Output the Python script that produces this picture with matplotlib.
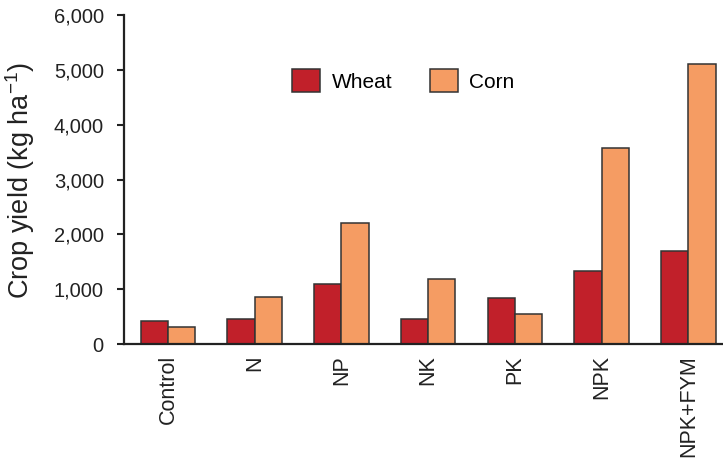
import matplotlib
matplotlib.use("Agg")
import matplotlib.pyplot as plt
import numpy as np

plt.rcParams['font.family'] = ['Liberation Sans', 'DejaVu Sans']
plt.rcParams['mathtext.fontset'] = 'custom'
plt.rcParams['mathtext.rm'] = 'Liberation Sans'
plt.rcParams['mathtext.it'] = 'Liberation Sans'

# data
treatments = ["Control", "N", "NP", "NK", "PK", "NPK", "NPK+FYM"]
wheat = [425, 456, 1095, 460, 845, 1337, 1702]
corn = [310, 850, 2207, 1190, 541, 3580, 5100]
yticks = [0, 1000, 2000, 3000, 4000, 5000, 6000]
ytick_labels = ["0", "1,000", "2,000", "3,000", "4,000", "5,000", "6,000"]

wheat_col = "#C1202A"
corn_col = "#F59C63"
edge = "#333333"

fig = plt.figure(figsize=(7.23, 4.59), dpi=100)
ax = fig.add_axes([0.1715, 0.2505, 0.8285, 0.7165])

x = np.arange(len(treatments))
w = 0.315
ax.bar(x - w/2, wheat, w, color=wheat_col, edgecolor=edge, linewidth=1.1, label="Wheat")
ax.bar(x + w/2, corn, w, color=corn_col, edgecolor=edge, linewidth=1.1, label="Corn")

ax.set_xlim(-0.507, 6.40)
ax.set_ylim(0, 6000)
ax.set_yticks(yticks)
ax.set_yticklabels(ytick_labels, fontsize=14.5, color="#222222")
ax.set_xticks(x)
ax.set_xticklabels(treatments, rotation=90, fontsize=15.5, color="#222222")
ax.tick_params(axis="x", length=0, pad=8)
ax.tick_params(axis="y", length=5, width=1.5, color="#222222", pad=9.5)

for s in ["top", "right"]:
    ax.spines[s].set_visible(False)
for s in ["left", "bottom"]:
    ax.spines[s].set_linewidth(1.6)
    ax.spines[s].set_color("#222222")

ax.set_ylabel("Crop yield (kg ha$^{-1}$)", fontsize=19.5, color="#222222")
ax.yaxis.set_label_coords(-0.145, 0.497)

ax.legend(loc="upper left", bbox_to_anchor=(0.2805, 0.835), bbox_transform=ax.transAxes,
          ncol=2, frameon=False, fontsize=15, handlelength=1.35, handleheight=1.3,
          handletextpad=0.55, columnspacing=1.8, borderpad=0, borderaxespad=0)

fig.savefig("out.png", dpi=100)
